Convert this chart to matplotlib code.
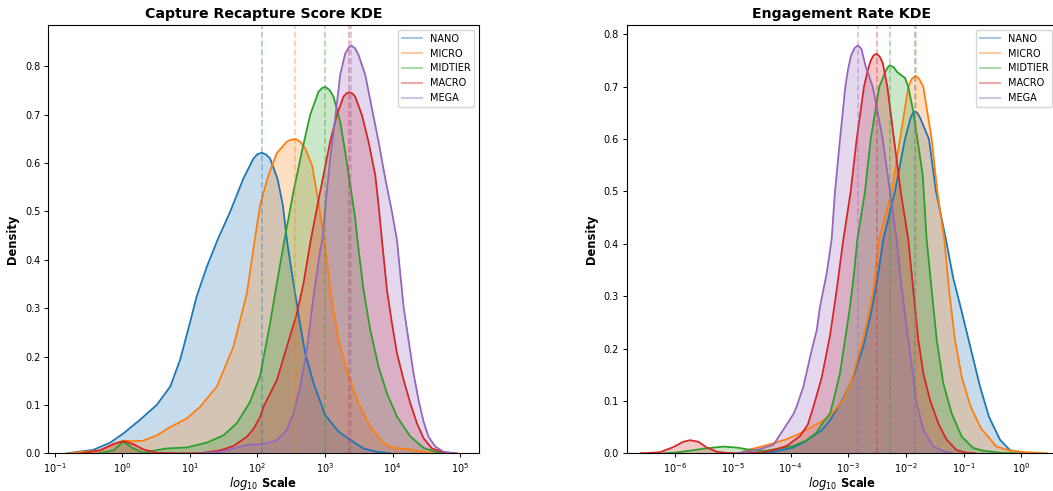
import numpy as np
import matplotlib
matplotlib.use('Agg')
import matplotlib.pyplot as plt
from matplotlib.lines import Line2D
from matplotlib.ticker import NullLocator

## categorias e cores (tab10 padrão) ##
tiers = ['NANO', 'MICRO', 'MIDTIER', 'MACRO', 'MEGA']
colors = ['#1f77b4', '#ff7f0e', '#2ca02c', '#d62728', '#9467bd']

## medianas (linhas tracejadas) ##
crs_medians = [116, 362, 1007, 2260, 2390]
er_medians = [0.0145, 0.0151, 0.0053, 0.00319, 0.00148]

## Capture Recapture Score: curvas KDE (log10 x, densidade) ##
crs_nano_logx = [-0.82, -0.43, -0.18, 0.015, 0.26, 0.51, 0.71, 0.855, 1.0, 1.1, 1.25, 1.41, 1.596, 1.793, 1.941,
                 2.0, 2.065, 2.13, 2.188, 2.296, 2.376, 2.435, 2.534, 2.622, 2.707, 2.83, 3.003, 3.2, 3.373, 3.57,
                 3.77, 3.96]
crs_nano_dens = [0.0, 0.007, 0.022, 0.041, 0.069, 0.1, 0.138, 0.193, 0.269, 0.324, 0.385, 0.441, 0.499, 0.568, 0.609,
                 0.618, 0.621, 0.617, 0.609, 0.568, 0.513, 0.441, 0.351, 0.275, 0.207, 0.145, 0.079, 0.045, 0.028, 0.01,
                 0.003, 0.0]

crs_micro_logx = [-0.8, -0.33, -0.13, 0.015, 0.163, 0.311, 0.51, 0.707, 0.954, 1.151, 1.4, 1.644, 1.843, 1.96, 2.04,
                  2.163, 2.287, 2.435, 2.5, 2.573, 2.64, 2.707, 2.806, 2.894, 2.988, 3.1, 3.2, 3.325, 3.473, 3.67,
                  3.867, 4.015, 4.21, 4.41, 4.61]
crs_micro_dens = [0.0, 0.006, 0.019, 0.026, 0.025, 0.026, 0.037, 0.054, 0.072, 0.096, 0.138, 0.22, 0.33, 0.441, 0.513,
                  0.575, 0.62, 0.644, 0.648, 0.649, 0.643, 0.63, 0.596, 0.527, 0.441, 0.317, 0.234, 0.172, 0.11, 0.055,
                  0.021, 0.011, 0.009, 0.004, 0.0]

crs_mid_logx = [-0.35, -0.13, 0.015, 0.163, 0.311, 0.51, 0.658, 0.954, 1.25, 1.496, 1.694, 1.89, 2.04, 2.188, 2.287,
                2.4, 2.534, 2.657, 2.78, 2.904, 2.96, 3.008, 3.07, 3.126, 3.225, 3.299, 3.373, 3.447, 3.48, 3.57,
                3.67, 3.793, 3.917, 4.065, 4.262, 4.46, 4.66, 4.85]
crs_mid_dens = [0.0, 0.006, 0.024, 0.01, 0.001, 0.0066, 0.01, 0.012, 0.022, 0.037, 0.062, 0.106, 0.16, 0.269, 0.351,
                0.441, 0.541, 0.623, 0.699, 0.747, 0.755, 0.757, 0.75, 0.737, 0.685, 0.623, 0.554, 0.486, 0.441, 0.338,
                0.255, 0.179, 0.124, 0.076, 0.035, 0.011, 0.002, 0.0]

crs_macro_logx = [-0.6, -0.33, -0.13, 0.015, 0.163, 0.311, 0.51, 0.8, 1.15, 1.447, 1.644, 1.843, 1.94, 2.04, 2.089,
                  2.287, 2.435, 2.584, 2.682, 2.79, 2.88, 2.978, 3.077, 3.176, 3.274, 3.32, 3.363, 3.41, 3.447, 3.547,
                  3.644, 3.744, 3.793, 3.843, 3.917, 3.991, 4.065, 4.163, 4.262, 4.361, 4.46, 4.583, 4.756, 4.95]
crs_macro_dens = [0.0, 0.006, 0.019, 0.025, 0.019, 0.008, 0.001, 0.0, 0.0, 0.006, 0.015, 0.034, 0.05, 0.075, 0.096,
                  0.151, 0.22, 0.289, 0.351, 0.441, 0.506, 0.575, 0.644, 0.699, 0.737, 0.744, 0.746, 0.743, 0.737, 0.699,
                  0.644, 0.575, 0.513, 0.441, 0.338, 0.269, 0.207, 0.152, 0.104, 0.062, 0.031, 0.01, 0.002, 0.0]

crs_mega_logx = [1.2, 1.447, 1.644, 1.843, 2.04, 2.089, 2.287, 2.435, 2.534, 2.633, 2.732, 2.83, 2.929, 2.96, 3.028,
                 3.077, 3.151, 3.225, 3.299, 3.35, 3.393, 3.445, 3.497, 3.596, 3.694, 3.793, 3.892, 3.991, 4.065,
                 4.114, 4.163, 4.237, 4.311, 4.385, 4.46, 4.533, 4.632, 4.756, 4.9]
crs_mega_dens = [0.0, 0.003, 0.01, 0.017, 0.019, 0.019, 0.027, 0.048, 0.083, 0.138, 0.214, 0.324, 0.42, 0.441, 0.541,
                 0.609, 0.692, 0.782, 0.826, 0.838, 0.842, 0.837, 0.823, 0.782, 0.713, 0.644, 0.568, 0.499, 0.441,
                 0.372, 0.303, 0.234, 0.165, 0.11, 0.065, 0.034, 0.014, 0.003, 0.0]

## Engagement Rate: curvas KDE (log10 x, densidade) ##
er_nano_logx = [-4.7, -4.3, -3.951, -3.75, -3.605, -3.45, -3.315, -3.085, -2.912, -2.738, -2.593, -2.478, -2.392,
                -2.19, -2.016, -1.92, -1.88, -1.842, -1.8, -1.75, -1.6, -1.478, -1.305, -1.18, -1.06, -0.889,
                -0.716, -0.56, -0.369, -0.196, 0.035, 0.26]
er_nano_dens = [0.0, 0.0025, 0.011, 0.022, 0.033, 0.045, 0.063, 0.105, 0.146, 0.204, 0.274, 0.344, 0.408,
                0.5, 0.6, 0.64, 0.65, 0.653, 0.65, 0.64, 0.6, 0.5, 0.408, 0.335, 0.283, 0.206,
                0.128, 0.07, 0.026, 0.006, 0.001, 0.0]

er_micro_logx = [-4.9, -4.76, -4.529, -4.298, -4.066, -3.835, -3.605, -3.373, -3.258, -3.085, -2.939, -2.796, -2.679,
                 -2.565, -2.466, -2.247, -2.102, -1.958, -1.9, -1.83, -1.77, -1.698, -1.553, -1.455, -1.334, -1.25,
                 -1.15, -1.03, -0.88, -0.7, -0.43, -0.196, 0.093, 0.45]
er_micro_dens = [0.0, 0.006, 0.012, 0.019, 0.027, 0.038, 0.052, 0.066, 0.079, 0.102, 0.14, 0.197, 0.248,
                 0.312, 0.408, 0.5, 0.6, 0.7, 0.715, 0.721, 0.715, 0.7, 0.6, 0.5, 0.408, 0.31,
                 0.217, 0.145, 0.09, 0.048, 0.013, 0.005, 0.002, 0.0]

er_mid_logx = [-6.2, -6.03, -5.742, -5.452, -5.164, -4.933, -4.76, -4.586, -4.413, -4.18, -3.951, -3.72, -3.546,
               -3.431, -3.315, -3.258, -3.142, -3.055, -2.969, -2.899, -2.842, -2.709, -2.61, -2.461, -2.35, -2.31,
               -2.276, -2.21, -2.15, -2.08, -2.016, -1.958, -1.872, -1.8, -1.709, -1.64, -1.553, -1.466, -1.352,
               -1.206, -1.033, -0.832, -0.659, -0.37, -0.1]
er_mid_dens = [0.0, 0.001, 0.005, 0.0096, 0.0127, 0.011, 0.0076, 0.005, 0.005, 0.0096, 0.014, 0.025, 0.04,
               0.06, 0.076, 0.1, 0.153, 0.217, 0.28, 0.344, 0.408, 0.5, 0.6, 0.7, 0.73, 0.738,
               0.741, 0.737, 0.728, 0.722, 0.717, 0.7, 0.653, 0.6, 0.532, 0.408, 0.312, 0.217, 0.134,
               0.076, 0.032, 0.01, 0.005, 0.001, 0.0]

er_macro_logx = [-6.6, -6.49, -6.262, -6.03, -5.858, -5.742, -5.598, -5.452, -5.279, -5.106, -4.875, -4.529, -4.298,
                 -4.066, -3.835, -3.7, -3.6, -3.459, -3.315, -3.2, -3.085, -2.957, -2.853, -2.727, -2.66, -2.61,
                 -2.56, -2.506, -2.45, -2.4, -2.322, -2.206, -2.09, -1.958, -1.872, -1.785, -1.698, -1.582, -1.438,
                 -1.293, -1.12, -0.95, -0.8]
er_macro_dens = [0.0, 0.0005, 0.002, 0.012, 0.022, 0.025, 0.022, 0.011, 0.003, 0.0007, 0.0, 0.001, 0.006,
                 0.014, 0.033, 0.055, 0.09, 0.145, 0.225, 0.312, 0.408, 0.5, 0.6, 0.7, 0.732, 0.75,
                 0.76, 0.763, 0.757, 0.745, 0.7, 0.6, 0.5, 0.408, 0.312, 0.217, 0.153, 0.102, 0.057,
                 0.026, 0.006, 0.001, 0.0]

er_mega_logx = [-4.95, -4.76, -4.529, -4.298, -4.066, -3.95, -3.892, -3.778, -3.633, -3.546, -3.489, -3.373, -3.288,
                -3.229, -3.142, -3.05, -3.0, -2.95, -2.89, -2.83, -2.77, -2.7, -2.575, -2.402, -2.276, -2.16,
                -2.102, -2.033, -1.958, -1.882, -1.813, -1.698, -1.525, -1.352, -1.18]
er_mega_dens = [0.0, 0.003, 0.008, 0.016, 0.055, 0.075, 0.09, 0.127, 0.197, 0.235, 0.28, 0.344, 0.408,
                0.5, 0.6, 0.7, 0.735, 0.76, 0.774, 0.779, 0.772, 0.74, 0.7, 0.6, 0.5, 0.408,
                0.344, 0.28, 0.217, 0.153, 0.096, 0.045, 0.013, 0.004, 0.0]

crs_curves = [(crs_nano_logx, crs_nano_dens), (crs_micro_logx, crs_micro_dens), (crs_mid_logx, crs_mid_dens),
              (crs_macro_logx, crs_macro_dens), (crs_mega_logx, crs_mega_dens)]
er_curves = [(er_nano_logx, er_nano_dens), (er_micro_logx, er_micro_dens), (er_mid_logx, er_mid_dens),
             (er_macro_logx, er_macro_dens), (er_mega_logx, er_mega_dens)]

fig = plt.figure(figsize=(10.53, 4.91), dpi=100)
ax1 = fig.add_axes([0.0456, 0.0768, 0.4093, 0.8723])
ax2 = fig.add_axes([0.5952, 0.0768, 0.4086, 0.8723])


def desenha(ax, curves, medians, title, xlim, ylim, decadas):
    for (lx, d), c in zip(curves, colors):
        x = 10 ** np.array(lx)
        ax.fill_between(x, d, color=c, alpha=0.25, linewidth=0)
        ax.plot(x, d, color=c, lw=1.3, solid_joinstyle='round')
    for m, c in zip(medians, colors):
        ax.axvline(m, color=c, linestyle='--', lw=1.2, alpha=0.4)
    ax.set_xscale('log')
    ax.set_xticks([10.0 ** k for k in decadas])
    ax.xaxis.set_minor_locator(NullLocator())
    ax.set_xlim(10 ** xlim[0], 10 ** xlim[1])
    ax.set_ylim(*ylim)
    ax.set_yticks(np.arange(0, 0.81, 0.1))
    ax.tick_params(labelsize=7, length=3, width=0.7, pad=2.5)
    ax.set_title(title, fontsize=10.2, fontweight='bold', pad=5)
    ax.set_xlabel(r'$log_{10}$ Scale', fontsize=8.3, fontweight='bold', labelpad=0)
    ax.set_ylabel('Density', fontsize=8.3, fontweight='bold')
    handles = [Line2D([0], [0], color=c, lw=1.5, alpha=0.4) for c in colors]
    ax.legend(handles, tiers, loc='upper right', fontsize=7)


desenha(ax1, crs_curves, crs_medians, 'Capture Recapture Score KDE', (-1.10, 5.28), (0, 0.885), range(-1, 6))
desenha(ax2, er_curves, er_medians, 'Engagement Rate KDE', (-6.84, 0.62), (0, 0.818), range(-6, 1))

fig.savefig('out.png', dpi=100)
